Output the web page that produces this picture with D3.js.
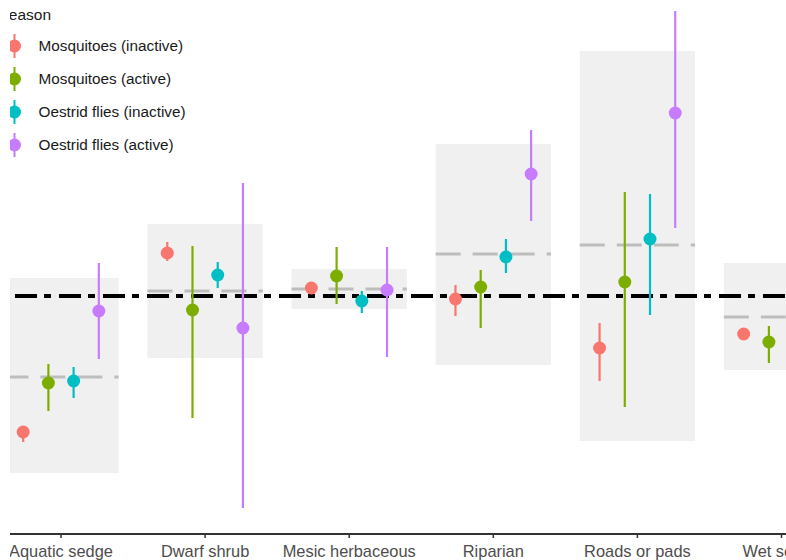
<!DOCTYPE html>
<html>
<head>
<meta charset="utf-8">
<script src="https://cdn.jsdelivr.net/npm/d3@7"></script>
<style>
  body { margin: 0; background: #fff; }
  svg { display: block; font-family: "Liberation Sans", Arial, sans-serif; }
</style>
</head>
<body>
<div id="chart"></div>
<script>
// habitats on the x axis
var categories = ["Aquatic sedge", "Dwarf shrub", "Mesic herbaceous", "Riparian", "Roads or pads", "Wet sedge"];
var seriesNames = ["Mosquitoes (inactive)", "Mosquitoes (active)", "Oestrid flies (inactive)", "Oestrid flies (active)"];
var seriesColors = ["#F8766D", "#7CAE00", "#00BFC4", "#C77CFF"];

// grey background range per habitat, with its median
var boxLow  = [-3.54, -1.24, -0.26, -1.38, -2.90, -1.48];
var boxHigh = [ 0.36,  1.44,  0.54,  3.04,  4.90,  0.66];
var boxMid  = [-1.62,  0.10,  0.14,  0.84,  1.02, -0.42];

// overall reference (dash-dot line)
var refValue = 0;

// estimates and intervals per season (null = outside the picture)
var mosqInactive   = [-2.72,  0.86,  0.16, -0.06, -1.04, -0.76];
var mosqInactiveLo = [-2.92,  0.70,  0.06, -0.40, -1.70, -0.84];
var mosqInactiveHi = [-2.60,  1.08,  0.24,  0.22, -0.54, -0.68];

var mosqActive   = [-1.74, -0.28,  0.40,  0.18,  0.28, -0.92];
var mosqActiveLo = [-2.30, -2.44, -0.16, -0.64, -2.22, -1.34];
var mosqActiveHi = [-1.36,  1.00,  0.98,  0.52,  2.08, -0.60];

var oestInactive   = [-1.70,  0.42, -0.10,  0.78,  1.14, null];
var oestInactiveLo = [-2.04,  0.16, -0.34,  0.46, -0.38, null];
var oestInactiveHi = [-1.42,  0.68,  0.10,  1.14,  2.04, null];

var oestActive   = [-0.30, -0.64,  0.12,  2.44,  3.66, null];
var oestActiveLo = [-1.26, -4.24, -1.22,  1.50,  1.36, null];
var oestActiveHi = [ 0.66,  2.26,  0.98,  3.32,  5.70, null];

var yDomain = [-4.74, 5.92];

function main() {
  var svgWidth = 786, svgHeight = 560;
  var axisY = 534;
  var step = 144.1;
  var firstCenter = 61;

  var svg = d3.select("#chart").append("svg")
    .attr("width", svgWidth)
    .attr("height", svgHeight);

  // the picture is cropped a little on the left
  svg.append("clipPath").attr("id", "crop")
    .append("rect").attr("x", 10).attr("y", 0)
    .attr("width", svgWidth - 10).attr("height", svgHeight);

  var root = svg.append("g").attr("clip-path", "url(#crop)");

  var x0 = firstCenter - step / 2;
  var xScale = d3.scaleBand()
    .domain(categories)
    .range([x0, x0 + step * categories.length])
    .paddingInner(0).paddingOuter(0);

  var dodge = d3.scaleBand()
    .domain(seriesNames)
    .range([-0.35 * step, 0.35 * step]);

  var yScale = d3.scaleLinear().domain(yDomain).range([axisY - 1, 0]);

  var color = d3.scaleOrdinal().domain(seriesNames).range(seriesColors);

  var boxes = categories.map(function(c, i) {
    return { cat: c, lo: boxLow[i], hi: boxHigh[i], mid: boxMid[i] };
  });

  var est = [mosqInactive, mosqActive, oestInactive, oestActive];
  var los = [mosqInactiveLo, mosqActiveLo, oestInactiveLo, oestActiveLo];
  var his = [mosqInactiveHi, mosqActiveHi, oestInactiveHi, oestActiveHi];
  var points = [];
  seriesNames.forEach(function(s, k) {
    categories.forEach(function(c, i) {
      if (est[k][i] == null) return;
      points.push({ series: s, cat: c, v: est[k][i], lo: los[k][i], hi: his[k][i] });
    });
  });

  function cx(cat) { return xScale(cat) + xScale.bandwidth() / 2; }
  function px(d) { return cx(d.cat) + dodge(d.series) + dodge.bandwidth() / 2; }

  // grey boxes
  root.selectAll(".box").data(boxes).enter().append("rect")
    .attr("x", function(d) { return cx(d.cat) - 0.4 * step; })
    .attr("width", 0.8 * step)
    .attr("y", function(d) { return yScale(d.hi); })
    .attr("height", function(d) { return yScale(d.lo) - yScale(d.hi); })
    .attr("fill", "#f0f0f0");

  // median lines inside the boxes
  root.selectAll(".mid").data(boxes).enter().append("line")
    .attr("x1", function(d) { return cx(d.cat) - 0.4 * step; })
    .attr("x2", function(d) { return cx(d.cat) + 0.4 * step; })
    .attr("y1", function(d) { return yScale(d.mid); })
    .attr("y2", function(d) { return yScale(d.mid); })
    .attr("stroke", "#bdbdbd")
    .attr("stroke-width", 3)
    .attr("stroke-dasharray", "25,12");

  // reference line
  root.append("line")
    .attr("x1", 0).attr("x2", svgWidth)
    .attr("y1", yScale(refValue)).attr("y2", yScale(refValue))
    .attr("stroke", "#000")
    .attr("stroke-width", 4)
    .attr("stroke-dasharray", "7,8,22,7");

  // error bars
  root.selectAll(".err").data(points).enter().append("line")
    .attr("x1", px).attr("x2", px)
    .attr("y1", function(d) { return yScale(d.hi); })
    .attr("y2", function(d) { return yScale(d.lo); })
    .attr("stroke", function(d) { return color(d.series); })
    .attr("stroke-width", 2.2);

  // points
  root.selectAll(".pt").data(points).enter().append("circle")
    .attr("cx", px)
    .attr("cy", function(d) { return yScale(d.v); })
    .attr("r", 6.5)
    .attr("fill", function(d) { return color(d.series); });

  // x axis
  var axis = root.append("g")
    .attr("transform", "translate(0," + axisY + ")")
    .call(d3.axisBottom(xScale).tickSize(4).tickPadding(7).tickSizeOuter(0));
  axis.select(".domain").attr("stroke", "#333").attr("stroke-width", 2)
    .attr("d", "M0,0H" + svgWidth);
  axis.selectAll(".tick line").attr("stroke", "#333").attr("stroke-width", 1.5);
  axis.selectAll(".tick text")
    .attr("fill", "#4d4d4d")
    .attr("font-size", "16.4px")
    .attr("font-family", "Liberation Sans, Arial, sans-serif");

  // legend
  var legend = root.append("g");
  legend.append("text")
    .attr("x", -1.5).attr("y", 20)
    .attr("font-size", "15.5px")
    .attr("fill", "#1a1a1a")
    .text("Season");

  var keys = legend.selectAll(".key").data(seriesNames).enter().append("g")
    .attr("transform", function(d, i) { return "translate(14.5," + (46 + i * 33) + ")"; });
  keys.append("line")
    .attr("y1", -12).attr("y2", 12)
    .attr("stroke", function(d) { return color(d); })
    .attr("stroke-width", 2);
  keys.append("circle")
    .attr("r", 6.5)
    .attr("fill", function(d) { return color(d); });
  keys.append("text")
    .attr("x", 24).attr("dy", "0.35em")
    .attr("font-size", "15.3px")
    .attr("fill", "#1a1a1a")
    .text(function(d) { return d; });
}
main();
</script>
</body>
</html>
